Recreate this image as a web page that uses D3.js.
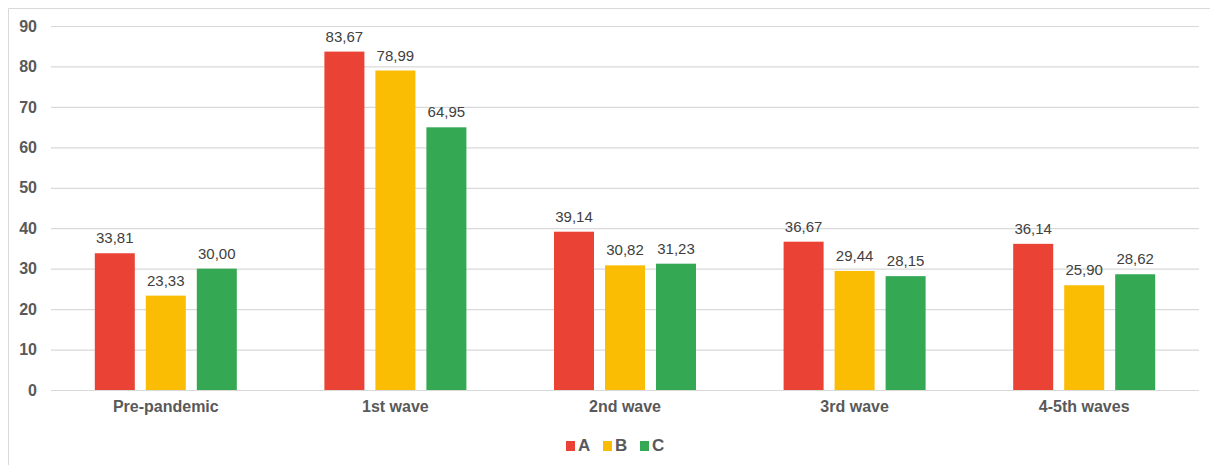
<!DOCTYPE html>
<html>
<head>
<meta charset="utf-8">
<script src="https://cdn.jsdelivr.net/npm/d3@7/dist/d3.min.js"></script>
<style>
  html, body { margin: 0; padding: 0; background: #fff; }
  svg { display: block; font-family: "Liberation Sans", Arial, sans-serif; }
</style>
</head>
<body>
<svg id="chart" width="1210" height="465"></svg>
<script>
// Periods on the x axis
const categories = ["Pre-pandemic", "1st wave", "2nd wave", "3rd wave", "4-5th waves"];
// Series names and their values per period
const seriesNames = ["A", "B", "C"];
const valuesA = [33.81, 83.67, 39.14, 36.67, 36.14];
const valuesB = [23.33, 78.99, 30.82, 29.44, 25.90];
const valuesC = [30.00, 64.95, 31.23, 28.15, 28.62];
const yTicks = [0, 10, 20, 30, 40, 50, 60, 70, 80, 90];

const colors = ["#EA4335", "#FBBC04", "#34A853"];
const series = [valuesA, valuesB, valuesC];

const svg = d3.select("#chart");

// outer frame (top and left edges visible)
svg.append("path")
  .attr("d", "M8.5,465 V8.5 H1210")
  .attr("fill", "none")
  .attr("stroke", "#d9d9d9")
  .attr("stroke-width", 1);

const plot = { left: 51, right: 1199, top: 26, bottom: 390 };

const x = d3.scaleBand()
  .domain(categories)
  .range([plot.left, plot.right])
  .paddingInner(0)
  .paddingOuter(0);

const y = d3.scaleLinear()
  .domain([0, 90])
  .range([plot.bottom, plot.top]);

const barW = 40, barGap = 11;

// gridlines
const grid = d3.axisLeft(y).tickValues(yTicks).tickSize(-(plot.right - plot.left)).tickFormat("");
svg.append("g")
  .attr("transform", `translate(${plot.left},0)`)
  .call(grid)
  .call(g => g.select(".domain").remove())
  .call(g => g.selectAll("line").attr("stroke", "#d9d9d9").attr("stroke-width", 1.2));

// y tick labels
svg.append("g")
  .attr("transform", `translate(${plot.left},0)`)
  .call(d3.axisLeft(y).tickValues(yTicks).tickSize(0).tickPadding(14).tickFormat(d3.format("d")))
  .call(g => g.select(".domain").remove())
  .call(g => g.selectAll("text")
    .attr("fill", "#595959")
    .attr("font-size", 16)
    .attr("font-weight", "bold")
    .attr("font-family", "Liberation Sans, Arial, sans-serif"));

// bars
const groupW = 3 * barW + 2 * barGap;
const groups = svg.append("g").selectAll("g")
  .data(categories)
  .join("g")
  .attr("transform", d => `translate(${x(d) + (x.bandwidth() - groupW) / 2},0)`);

const fmt = v => d3.format(".2f")(v).replace(".", ",");

groups.each(function (cat, ci) {
  const g = d3.select(this);
  seriesNames.forEach((s, si) => {
    const v = series[si][ci];
    const bx = si * (barW + barGap);
    g.append("rect")
      .attr("x", bx)
      .attr("y", y(v))
      .attr("width", barW)
      .attr("height", y(0) - y(v))
      .attr("fill", colors[si]);
    g.append("text")
      .attr("x", bx + barW / 2)
      .attr("y", y(v) - 10)
      .attr("text-anchor", "middle")
      .attr("font-size", 15)
      .attr("fill", "#404040")
      .text(fmt(v));
  });
});

// category labels
svg.append("g")
  .attr("transform", `translate(0,${plot.bottom})`)
  .call(d3.axisBottom(x).tickSize(0).tickPadding(11))
  .call(g => g.select(".domain").remove())
  .call(g => g.selectAll("text")
    .attr("fill", "#595959")
    .attr("font-size", 16)
    .attr("font-weight", "bold")
    .attr("font-family", "Liberation Sans, Arial, sans-serif"));

// legend
const legendX = [566, 603, 640];
const legend = svg.append("g");
seriesNames.forEach((s, i) => {
  legend.append("rect")
    .attr("x", legendX[i])
    .attr("y", 441)
    .attr("width", 9)
    .attr("height", 10)
    .attr("fill", colors[i]);
  legend.append("text")
    .attr("x", legendX[i] + 12)
    .attr("y", 451)
    .attr("font-size", 17)
    .attr("font-weight", "bold")
    .attr("fill", "#595959")
    .text(s);
});
</script>
</body>
</html>
